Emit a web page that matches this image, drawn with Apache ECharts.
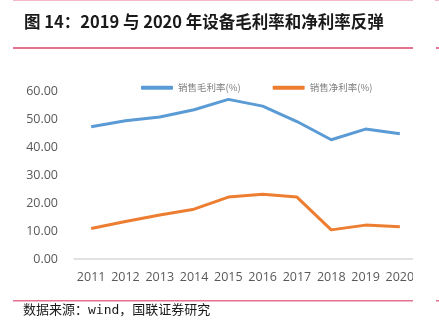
<!DOCTYPE html>
<html><head><meta charset="utf-8">
<script src="https://cdn.jsdelivr.net/npm/echarts@6/dist/echarts.min.js"></script>
<style>html,body{margin:0;padding:0;background:#fff}#c{width:439px;height:328px}</style>
</head><body><div id="c"></div>
<script>
const categories = ['2011','2012','2013','2014','2015','2016','2017','2018','2019','2020'];
const grossMargin = [47.2, 49.4, 50.7, 53.3, 57.0, 54.6, 49.1, 42.6, 46.4, 44.7];
const netMargin = [10.9, 13.4, 15.7, 17.8, 22.1, 23.1, 22.1, 10.4, 12.1, 11.5];
const yTicks = [0, 10, 20, 30, 40, 50, 60];
const seriesNames = ['销售毛利率(%)', '销售净利率(%)'];
const titleText = '图 14：2019 与 2020 年设备毛利率和净利率反弹';
const sourceText = '数据来源：wind，国联证券研究';

const chart = echarts.init(document.getElementById('c'), null, {renderer:'canvas'});
chart.setOption({
  animation: false,
  backgroundColor: '#fff',
  grid: {left: 74, right: 22, top: 91, bottom: 69},
  legend: {
    left: 136, top: 78, itemGap: 32, itemWidth: 32, itemHeight: 4,
    icon: 'roundRect',
    textStyle: {fontSize: 9.5, color: '#7f7f7f', fontFamily: 'Noto Sans CJK SC'},
    data: seriesNames
  },
  xAxis: {
    type: 'category', data: categories, boundaryGap: true,
    axisLine: {lineStyle: {color: '#d9d9d9', width: 1.5}},
    axisTick: {show: false},
    axisLabel: {color: '#595959', fontSize: 12.5, fontFamily: 'Open Sans', margin: 12, interval: 0, hideOverlap: false}
  },
  yAxis: {
    type: 'value', min: yTicks[0], max: yTicks[yTicks.length-1], interval: 10,
    axisLine: {show: false}, axisTick: {show: false}, splitLine: {show: false},
    axisLabel: {color: '#595959', fontSize: 12.5, fontFamily: 'Open Sans', margin: 16,
      formatter: v => v.toFixed(2)}
  },
  series: [
    {name: seriesNames[0], type: 'line', data: grossMargin, symbol: 'none',
      lineStyle: {color: '#5B9BD5', width: 3}, itemStyle: {color: '#5B9BD5'}},
    {name: seriesNames[1], type: 'line', data: netMargin, symbol: 'none',
      lineStyle: {color: '#ED7D31', width: 3}, itemStyle: {color: '#ED7D31'}}
  ],
  graphic: [
    {type: 'rect', shape: {x: 413, y: 50, width: 22, height: 248}, style: {fill: '#fff'}, z: 100},
    {type: 'rect', shape: {x: 13, y: 0, width: 400, height: 1}, style: {fill: '#f2b8c6'}, z: 101},
    {type: 'rect', shape: {x: 435, y: 0, width: 4, height: 1}, style: {fill: '#f2b8c6'}, z: 101},
    {type: 'rect', shape: {x: 13, y: 47, width: 400, height: 2}, style: {fill: '#e3738f'}, z: 101},
    {type: 'rect', shape: {x: 436, y: 47, width: 3, height: 2}, style: {fill: '#e3738f'}, z: 101},
    {type: 'rect', shape: {x: 13, y: 300, width: 400, height: 1.5}, style: {fill: '#e3738f'}, z: 101},
    {type: 'rect', shape: {x: 436, y: 300, width: 3, height: 1.5}, style: {fill: '#e3738f'}, z: 101},
    {type: 'text', left: 24, top: 13, z: 101,
      style: {text: titleText, font: 'bold 16.5px "Noto Sans CJK SC"', fill: '#1a1a1a'}},
    {type: 'text', left: 23, top: 304, z: 101,
      style: {text: sourceText, font: '13px "DejaVu Sans Mono", "Noto Sans CJK SC"', fill: '#1a1a1a'}}
  ]
});
</script></body></html>
